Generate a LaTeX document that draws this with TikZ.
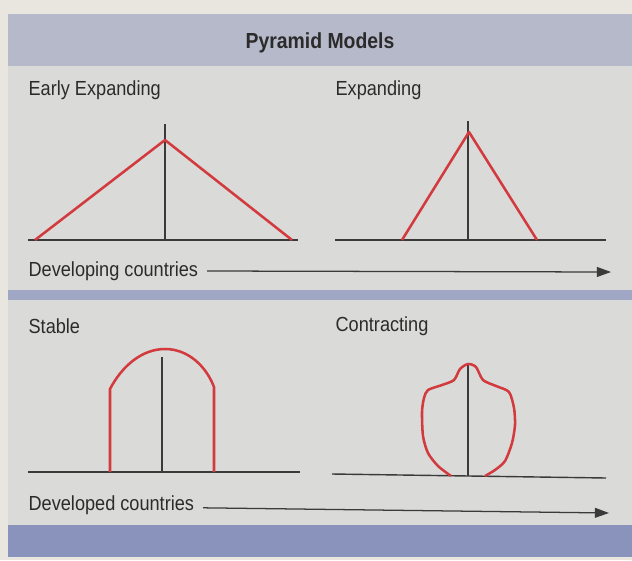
\documentclass[tikz,border=0pt]{standalone}
\usepackage{fontspec}
\setmainfont[FakeStretch=0.89]{Liberation Sans}
\usepackage{xcolor}
\usetikzlibrary{arrows.meta}

\definecolor{pagecream}{HTML}{E8E6DF}
\definecolor{panelgrey}{HTML}{DADAD8}
\definecolor{bandgrey}{HTML}{B6B9CA}
\definecolor{dividerblue}{HTML}{A0A7C4}
\definecolor{footblue}{HTML}{8A93BC}
\definecolor{pyrred}{HTML}{D23A3E}
\definecolor{ink}{HTML}{2B2B2B}
\definecolor{axisgrey}{HTML}{3A3A3A}

\begin{document}
\begin{tikzpicture}[x=0.025cm, y=-0.025cm, >={Triangle[length=10pt,width=7pt]}, line width=0.9pt]

    \tikzset{
        lbl/.style={anchor=west, text=ink, inner sep=0pt, font=\fontsize{14.5}{17}\selectfont},
        axis/.style={draw=axisgrey, line width=1pt},
        pyr/.style={draw=pyrred, line width=1.8pt, line join=round},
    }

    \useasboundingbox (0,0) rectangle (632,560);

    % ==========================================
    % Background panels and bands
    % ==========================================
    \fill[pagecream] (0,0) rectangle (632,560);
    \fill[bandgrey] (8,14) rectangle (632,66);
    \fill[panelgrey] (8,66) rectangle (632,290);
    \fill[dividerblue] (8,290) rectangle (632,300);
    \fill[panelgrey] (8,300) rectangle (632,525);
    \fill[footblue] (8,525) rectangle (632,557);

    % Title
    \node[text=ink, font=\fontsize{15.5}{18}\selectfont\bfseries] (title) at (320,43) {Pyramid Models};

    % ==========================================
    % Developing countries (top row)
    % ==========================================
    \node[lbl] (earlyLbl) at (28,90) {Early Expanding};
    \node[lbl] (expLbl) at (335,90) {Expanding};

    % Early expanding pyramid
    \draw[axis] (28,240) -- (298,240);
    \draw[axis] (165,124) -- (165,240);
    \draw[pyr] (35,240) -- (165,140) -- (292,240);

    % Expanding pyramid
    \draw[axis] (335,240) -- (606,240);
    \draw[axis] (468,121) -- (468,240);
    \draw[pyr] (402,240) -- (469,132) -- (537,240);

    % Arrow
    \node[lbl] (devingLbl) at (28,271) {Developing countries};
    \coordinate (devingTip) at (611,272);
    \draw[->, axisgrey] ([xshift=6pt]devingLbl.east) -- (devingTip);

    % ==========================================
    % Developed countries (bottom row)
    % ==========================================
    \node[lbl] (stableLbl) at (28,326) {Stable};
    \node[lbl] (contrLbl) at (335,326) {Contracting};

    % Stable pyramid
    \draw[axis] (28,472) -- (300,472);
    \draw[axis] (162,357) -- (162,472);
    \draw[pyr] (110,472) -- (110,389)
        .. controls (122,366) and (142,349) .. (165,349)
        .. controls (188,349) and (206,366) .. (214,387) -- (214,472);

    % Contracting pyramid
    \draw[axis] (332,474) -- (606,478);
    \draw[axis] (468,363) -- (468,476);
    \draw[pyr] plot[smooth, tension=0.45] coordinates {
        (451,476) (438,466) (428,453) (423,436) (422,412) (424,398) (428,390)
        (442,385) (454,380) (460,369) (468,364) (476,367) (483,380)
        (496,386) (509,392) (514,408) (515,425) (512,443) (505,461) (495,470) (485,476)};

    % Arrow
    \node[lbl] (devedLbl) at (28,505) {Developed countries};
    \coordinate (devedTip) at (609,513);
    \draw[->, axisgrey] ([xshift=6pt,yshift=-2pt]devedLbl.east) -- (devedTip);

\end{tikzpicture}
\end{document}
